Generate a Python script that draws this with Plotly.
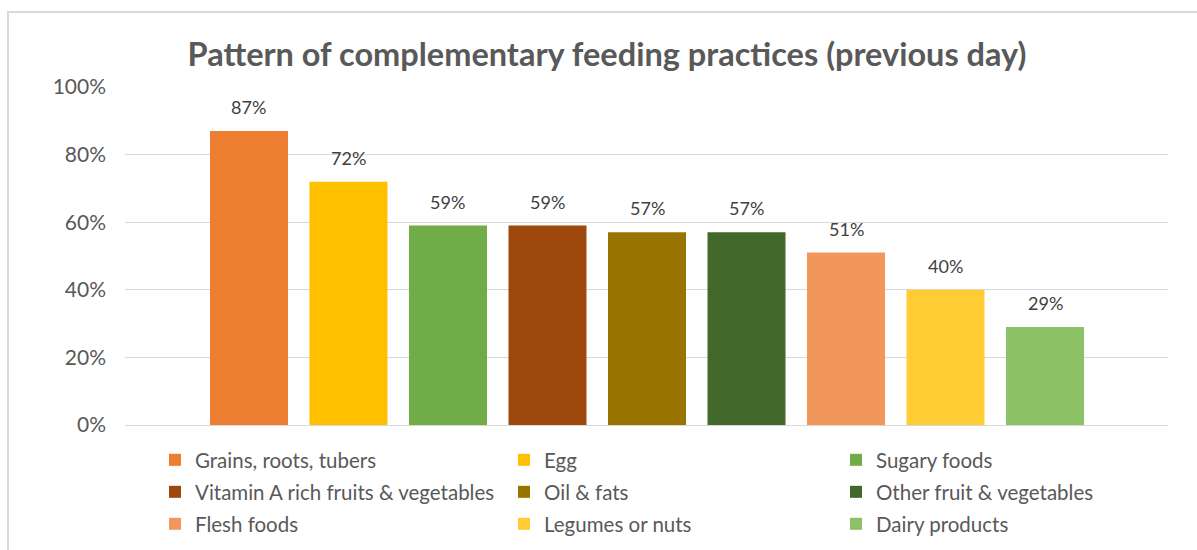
import plotly.graph_objects as go

# Share of children receiving each food group on the previous day (%)
food_groups = [
    "Grains, roots, tubers",
    "Egg",
    "Sugary foods",
    "Vitamin A rich fruits & vegetables",
    "Oil & fats",
    "Other fruit & vegetables",
    "Flesh foods",
    "Legumes or nuts",
    "Dairy products",
]
shares = [87, 72, 59, 59, 57, 57, 51, 40, 29]
colors = [
    "#ED7D31", "#FFC000", "#70AD47",
    "#9E480E", "#997300", "#43682B",
    "#F1975A", "#FFCD33", "#8CC168",
]
y_ticks = [0, 20, 40, 60, 80, 100]
y_tick_text = [f"{t}%" for t in y_ticks]

FONT = "Lato"
TEXT_GREY = "#595959"
W, H = 1197, 550

# legend grid: three columns, three rows (pixel positions in the page)
legend_cols = [155, 504, 836]
legend_rows = [460, 492, 524]

fig = go.Figure()
layout_legends = {}
for i, (name, val, col) in enumerate(zip(food_groups, shares, colors)):
    key = "legend" if i == 0 else f"legend{i + 1}"
    fig.add_trace(go.Bar(
        x=[i], y=[val], name=name, width=0.784,
        marker=dict(color=col, line=dict(width=0)),
        legend=key, showlegend=True,
    ))
    fig.add_annotation(
        x=i, y=val, text=f"{val}%", showarrow=False,
        xref="x", yref="y", yanchor="middle", yshift=24,
        font=dict(family=FONT, size=18, color="#404040"),
    )
    row, c = divmod(i, 3)
    layout_legends[key] = dict(
        x=legend_cols[c] / W, xref="container", xanchor="left",
        y=1 - legend_rows[row] / H, yref="container", yanchor="middle",
        orientation="h", bgcolor="rgba(0,0,0,0)", borderwidth=0,
        font=dict(family=FONT, size=20.5, color=TEXT_GREY),
    )

fig.update_layout(
    width=W, height=H,
    margin=dict(l=125, r=29, t=87, b=125, autoexpand=False),
    paper_bgcolor="white", plot_bgcolor="white",
    barmode="overlay",
    title=dict(
        text="<b>Pattern of complementary feeding practices (previous day)</b>",
        font=dict(family=FONT, size=32.5, color=TEXT_GREY),
        x=607 / W, xanchor="center", xref="container",
        y=1 - 55 / H, yanchor="middle", yref="container",
    ),
    xaxis=dict(range=[-1.246, 9.236], showticklabels=False, showgrid=False,
               zeroline=False, showline=False, ticks=""),
    yaxis=dict(range=[0, 100], tickvals=y_ticks, ticktext=y_tick_text,
               showgrid=True, gridcolor="#D9D9D9", gridwidth=1,
               zeroline=True, zerolinecolor="#D9D9D9", zerolinewidth=1,
               showline=False, ticks="", ticklabelstandoff=18,
               tickfont=dict(family=FONT, size=21, color=TEXT_GREY)),
    **layout_legends,
)

# Chart outline
fig.add_shape(type="rect", xref="paper", yref="paper",
              x0=(8 - 125) / 1043, x1=1.2, y0=-0.5, y1=1 + (87 - 12) / 338,
              line=dict(color="#D9D9D9", width=2), fillcolor="rgba(0,0,0,0)",
              layer="below")

fig.write_html("out.html")
